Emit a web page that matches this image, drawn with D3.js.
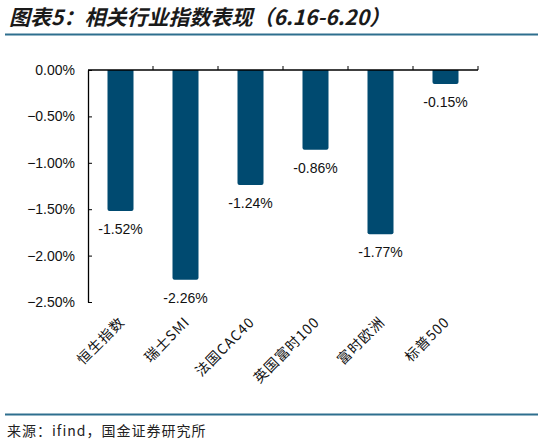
<!DOCTYPE html>
<html>
<head>
<meta charset="utf-8">
<script src="https://cdn.jsdelivr.net/npm/d3@7"></script>
<style>
    body { margin: 0; background: #fff; }
    svg text { font-family: "Liberation Sans", Arial, sans-serif; }
    svg text.cjk { font-family: "Noto Sans CJK SC", sans-serif; }
</style>
</head>
<body>
<svg id="chart"></svg>
<script>
"use strict";

const categories = ["恒生指数", "瑞士SMI", "法国CAC40", "英国富时100", "富时欧洲", "标普500"];
const values = [-1.52, -2.26, -1.24, -0.86, -1.77, -0.15];
const yTicks = [0, -0.5, -1.0, -1.5, -2.0, -2.5];

const width = 543;
const height = 447;
const margin = { left: 88, right: 65 };

const svg = d3.select("#chart")
    .attr("width", width)
    .attr("height", height);

// title, rules and source line
svg.append("text")
    .attr("class", "cjk")
    .attr("x", 9)
    .attr("y", 25)
    .attr("font-size", 21)
    .attr("font-weight", "bold")
    .attr("font-style", "italic")
    .attr("fill", "#1a1a1a")
    .text("图表5：相关行业指数表现（6.16-6.20）");

svg.append("line")
    .attr("x1", 5).attr("x2", 538)
    .attr("y1", 34.5).attr("y2", 34.5)
    .attr("stroke", "#2e6f8e").attr("stroke-width", 2);

svg.append("line")
    .attr("x1", 5).attr("x2", 538)
    .attr("y1", 414.5).attr("y2", 414.5)
    .attr("stroke", "#2e6f8e").attr("stroke-width", 2);

svg.append("text")
    .attr("class", "cjk")
    .attr("x", 7)
    .attr("y", 436)
    .attr("font-size", 14)
    .attr("letter-spacing", 1)
    .attr("fill", "#222")
    .text("来源：ifind，国金证券研究所");

const x = d3.scaleBand()
    .domain(categories)
    .range([margin.left, width - margin.right])
    .paddingInner(0.6)
    .paddingOuter(0.3);

const y = d3.scaleLinear()
    .domain([-2.5, 0])
    .range([302, 70]);

// y axis, ticks pointing inward
const yAxis = svg.append("g")
    .attr("transform", `translate(${margin.left},0)`)
    .call(d3.axisLeft(y).tickValues(yTicks).tickSizeOuter(0)
        .tickFormat(d => d3.format(".2f")(d) + "%"));
yAxis.select(".domain").attr("stroke", "#000").attr("stroke-width", 1.3);
yAxis.selectAll(".tick line").attr("x2", 4).attr("stroke", "#000");
yAxis.selectAll(".tick text")
    .attr("x", -13)
    .attr("font-size", 14)
    .attr("fill", "#111");

// bars, rounded bottom corners only
const r = 2;
svg.selectAll(".bar")
    .data(values)
    .enter()
    .append("path")
    .attr("class", "bar")
    .attr("fill", "#004a70")
    .attr("d", (d, i) => {
        let x0 = x(categories[i]);
        let w = x.bandwidth();
        let y0 = y(0);
        let y1 = y(d);
        return `M${x0},${y0}V${y1 - r}Q${x0},${y1} ${x0 + r},${y1}H${x0 + w - r}Q${x0 + w},${y1} ${x0 + w},${y1 - r}V${y0}Z`;
    });

// category axis along zero, ticks between categories pointing up
const xLeft = margin.left;
const xRight = width - margin.right;
svg.append("line")
    .attr("x1", xLeft).attr("x2", xRight)
    .attr("y1", y(0)).attr("y2", y(0))
    .attr("stroke", "#000").attr("stroke-width", 1.3);

svg.selectAll(".xtick")
    .data(categories)
    .enter()
    .append("line")
    .attr("class", "xtick")
    .attr("x1", d => x(d) + x.bandwidth() / 2 + x.step() / 2)
    .attr("x2", d => x(d) + x.bandwidth() / 2 + x.step() / 2)
    .attr("y1", y(0) - 4).attr("y2", y(0))
    .attr("stroke", "#000");

// value labels under bars
svg.selectAll(".val")
    .data(values)
    .enter()
    .append("text")
    .attr("class", "val")
    .attr("x", (d, i) => x(categories[i]) + x.bandwidth() / 2)
    .attr("y", d => y(d) + 23)
    .attr("text-anchor", "middle")
    .attr("font-size", 14)
    .attr("fill", "#111")
    .text(d => d.toFixed(2) + "%");

// rotated category labels
svg.selectAll(".cat")
    .data(categories)
    .enter()
    .append("text")
    .attr("class", "cjk")
    .attr("transform", d => `translate(${x(d) + x.bandwidth() / 2 + 5},${323}) rotate(-45)`)
    .attr("text-anchor", "end")
    .attr("font-size", 14)
    .attr("letter-spacing", 1)
    .attr("fill", "#111")
    .text(d => d);
</script>
</body>
</html>
